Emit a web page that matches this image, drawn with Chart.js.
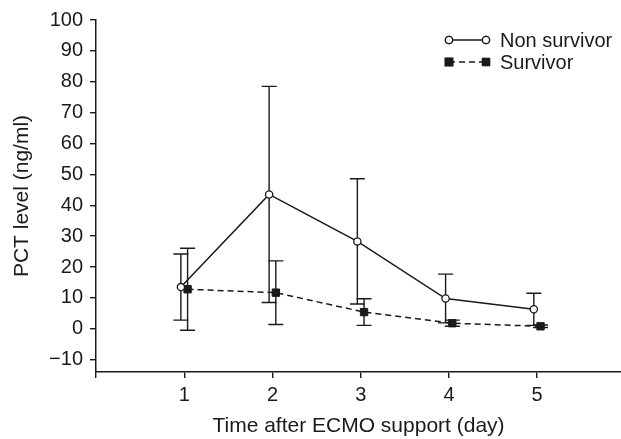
<!DOCTYPE html>
<html>
<head>
<meta charset="utf-8">
<title>PCT level after ECMO support</title>
<script src="https://cdn.jsdelivr.net/npm/chart.js@4.4.1/dist/chart.umd.min.js"></script>
<style>
    html, body { margin: 0; padding: 0; background: #fff; overflow: hidden; }
    canvas { display: block; }
</style>
</head>
<body>
<canvas id="pctChart" width="621" height="439"></canvas>
<script>
// Datos (media ± DE)
const days = [1, 2, 3, 4, 5];
const nonSurvivorMean = [13.5, 43.5, 28.3, 9.8, 6.3];
const nonSurvivorSD = [10.7, 35.0, 20.3, 7.9, 5.2];
const survivorMean = [12.8, 11.7, 5.4, 1.8, 0.8];
const survivorSD = [13.3, 10.3, 4.3, 1.0, 0.4];
const yTicks = [-10, 0, 10, 20, 30, 40, 50, 60, 70, 80, 90, 100];
const xTicks = [0, 1, 2, 3, 4, 5];

const INK = '#1a1a1a';
const FONT = "'Liberation Sans', Arial, Helvetica, sans-serif";
const OFFSET = 0.038; // desplazamiento horizontal para que no se tapen

const toPoints = (means, shift) => days.map((d, i) => ({ x: d + shift, y: means[i] }));

// Barras de error dibujadas con las escalas del gráfico
const errorBarsPlugin = {
    id: 'errorBars',
    beforeDatasetsDraw(chart) {
        const ctx = chart.ctx;
        const xs = chart.scales.x;
        const ys = chart.scales.y;
        ctx.save();
        ctx.strokeStyle = INK;
        ctx.lineWidth = 1.4;
        chart.data.datasets.forEach(ds => {
            ds.data.forEach((p, i) => {
                const x = xs.getPixelForValue(p.x);
                const top = ys.getPixelForValue(p.y + ds.sd[i]);
                const bot = ys.getPixelForValue(p.y - ds.sd[i]);
                ctx.beginPath();
                ctx.moveTo(x, top); ctx.lineTo(x, bot);
                ctx.moveTo(x - 7.5, top); ctx.lineTo(x + 7.5, top);
                ctx.moveTo(x - 7.5, bot); ctx.lineTo(x + 7.5, bot);
                ctx.stroke();
            });
        });
        ctx.restore();
    }
};

// Leyenda con marcador en ambos extremos de la línea
const legendPlugin = {
    id: 'pairLegend',
    afterDraw(chart) {
        const ctx = chart.ctx;
        const rows = [40, 62];
        ctx.save();
        chart.data.datasets.forEach((ds, i) => {
            const y = rows[i];
            const x0 = 449, x1 = 486;
            ctx.strokeStyle = INK;
            ctx.lineWidth = 1.5;
            ctx.setLineDash(ds.borderDash || []);
            ctx.beginPath();
            ctx.moveTo(x0, y); ctx.lineTo(x1, y);
            ctx.stroke();
            ctx.setLineDash([]);
            [x0, x1].forEach(x => {
                Chart.helpers.drawPoint(ctx, {
                    pointStyle: ds.pointStyle,
                    radius: ds.pointRadius,
                    borderWidth: ds.pointBorderWidth
                }, x, y);
                ctx.fillStyle = ds.pointBackgroundColor;
                ctx.strokeStyle = INK;
                ctx.lineWidth = ds.pointBorderWidth;
                ctx.fill();
                ctx.stroke();
            });
            ctx.fillStyle = INK;
            ctx.font = '20px ' + FONT;
            ctx.textBaseline = 'middle';
            ctx.textAlign = 'left';
            ctx.fillText(ds.label, 500, y + 1);
        });
        ctx.restore();
    }
};

new Chart(document.getElementById('pctChart').getContext('2d'), {
    type: 'line',
    data: {
        datasets: [{
            label: 'Non survivor',
            data: toPoints(nonSurvivorMean, -OFFSET),
            sd: nonSurvivorSD,
            borderColor: INK,
            borderWidth: 1.5,
            pointStyle: 'circle',
            pointRadius: 3.6,
            pointBorderWidth: 1.3,
            pointBackgroundColor: '#fff',
            pointBorderColor: INK
        }, {
            label: 'Survivor',
            data: toPoints(survivorMean, OFFSET),
            sd: survivorSD,
            borderColor: INK,
            borderWidth: 1.5,
            borderDash: [6, 4],
            pointStyle: 'rect',
            pointRadius: 5.2,
            pointBorderWidth: 1,
            pointBackgroundColor: INK,
            pointBorderColor: INK
        }]
    },
    options: {
        responsive: false,
        animation: false,
        // sin autoPadding el eje x llega hasta el borde del lienzo
        layout: { autoPadding: false, padding: { top: 20, right: 0, left: 0, bottom: 0 } },
        plugins: {
            legend: { display: false },
            tooltip: { enabled: false }
        },
        scales: {
            x: {
                type: 'linear',
                min: 0,
                max: 5.95,
                afterBuildTicks: s => { s.ticks = xTicks.map(v => ({ value: v })); },
                afterFit: s => {
                    s.height = 67;
                    s.paddingLeft = 0;
                    s.paddingRight = 0;
                },
                ticks: {
                    color: INK,
                    font: { family: FONT, size: 20 },
                    padding: 5,
                    maxRotation: 0,
                    callback: v => (v === 0 ? '' : v)
                },
                grid: { drawOnChartArea: false, tickLength: 6, color: INK, lineWidth: 1.4 },
                border: { color: INK, width: 1.5 },
                title: {
                    display: true,
                    text: 'Time after ECMO support (day)',
                    color: INK,
                    font: { family: FONT, size: 21, lineHeight: 1.2 },
                    padding: { top: 0, bottom: 0 }
                }
            },
            y: {
                min: -14,
                max: 100,
                afterBuildTicks: s => { s.ticks = yTicks.map(v => ({ value: v })); },
                afterFit: s => { s.width = 96; },
                ticks: {
                    color: INK,
                    font: { family: FONT, size: 20 },
                    padding: 7,
                    callback: v => (v < 0 ? '\u2212' + Math.abs(v) : v)
                },
                grid: { drawOnChartArea: false, tickLength: 6, color: INK, lineWidth: 1.4 },
                border: { color: INK, width: 1.5 },
                title: {
                    display: true,
                    text: 'PCT level (ng/ml)',
                    color: INK,
                    font: { family: FONT, size: 21, lineHeight: 1.2 },
                    padding: { top: 10, bottom: 0 }
                }
            }
        }
    },
    plugins: [errorBarsPlugin, legendPlugin]
});
</script>
</body>
</html>
